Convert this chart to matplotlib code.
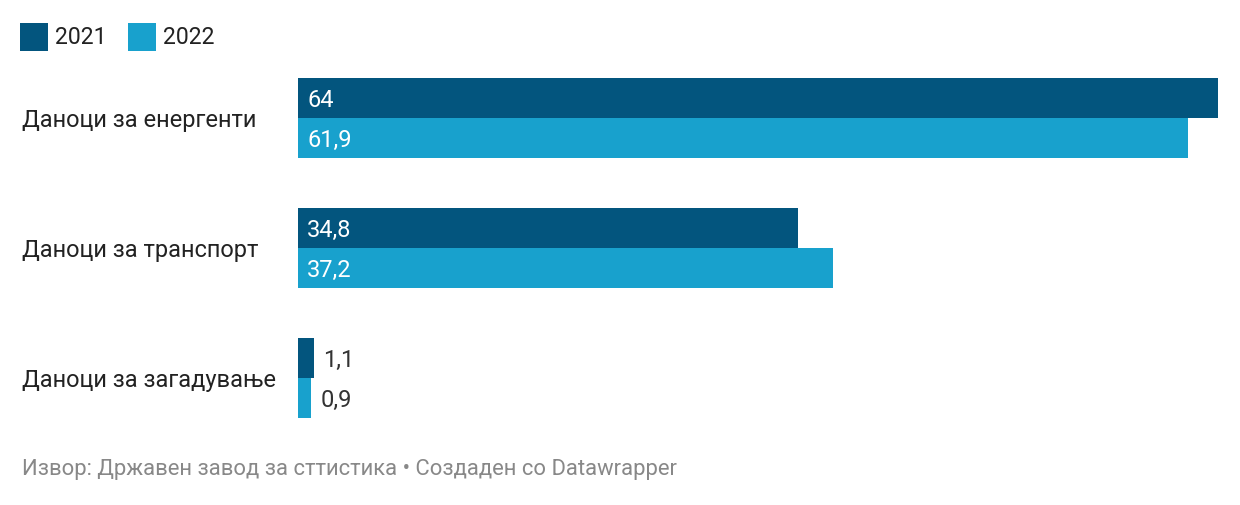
import numpy as np
import matplotlib.pyplot as plt
import matplotlib.transforms as mtransforms
from matplotlib.patches import Rectangle

plt.rcParams["font.family"] = ["Roboto", "DejaVu Sans"]

categories = ["Даноци за енергенти", "Даноци за транспорт", "Даноци за загадување"]
years = ["2021", "2022"]
values_2021 = [64, 34.8, 1.1]
values_2022 = [61.9, 37.2, 0.9]
colors = ["#03557e", "#18a1cd"]
source = "Извор: Државен завод за сттистика • Создаден со Datawrapper"

W, H = 1240, 506
fig = plt.figure(figsize=(W / 100, H / 100), dpi=100)

# bar area in pixels: x 298..1218, y 78..418
h = 40 / 130
ax = fig.add_axes([298 / W, (H - 419) / H, 920 / W, 340 / H])
ax.set_xlim(0, 64)
ax.set_ylim(2 + h, -h)
ax.axis("off")

y = np.arange(len(categories))
series = [values_2021, values_2022]
for k, vals in enumerate(series):
    pos = y - h / 2 + k * h
    ax.barh(pos, vals, height=h, color=colors[k], linewidth=0)
    for yy, v in zip(pos, vals):
        label = f"{v:g}".replace(".", ",")
        if v > 5:
            ax.text(0.65, yy + 0.01, label, color="white", fontsize=17, va="center", ha="left")
        else:
            ax.text(v + 0.65, yy + 0.01, label, color="#333333", fontsize=17, va="center", ha="left")

# category labels
trans = mtransforms.blended_transform_factory(fig.transFigure, ax.transData)
for yy, cat in zip(y, categories):
    ax.text(22 / W, yy + 0.01, cat, transform=trans, fontsize=17, color="#222222",
            va="center", ha="left")

# legend
for k, (yr, x0) in enumerate(zip(years, [20, 128])):
    fig.patches.append(Rectangle((x0 / W, (H - 52) / H), 28 / W, 28 / H,
                                 transform=fig.transFigure, color=colors[k], linewidth=0))
    fig.text((x0 + 35) / W, (H - 38) / H, yr, fontsize=16.6, color="#222222",
             va="center", ha="left")

fig.text(22 / W, (H - 470) / H, source, fontsize=15.8, color="#888888",
         va="center", ha="left")

fig.savefig("out.png", dpi=100)
